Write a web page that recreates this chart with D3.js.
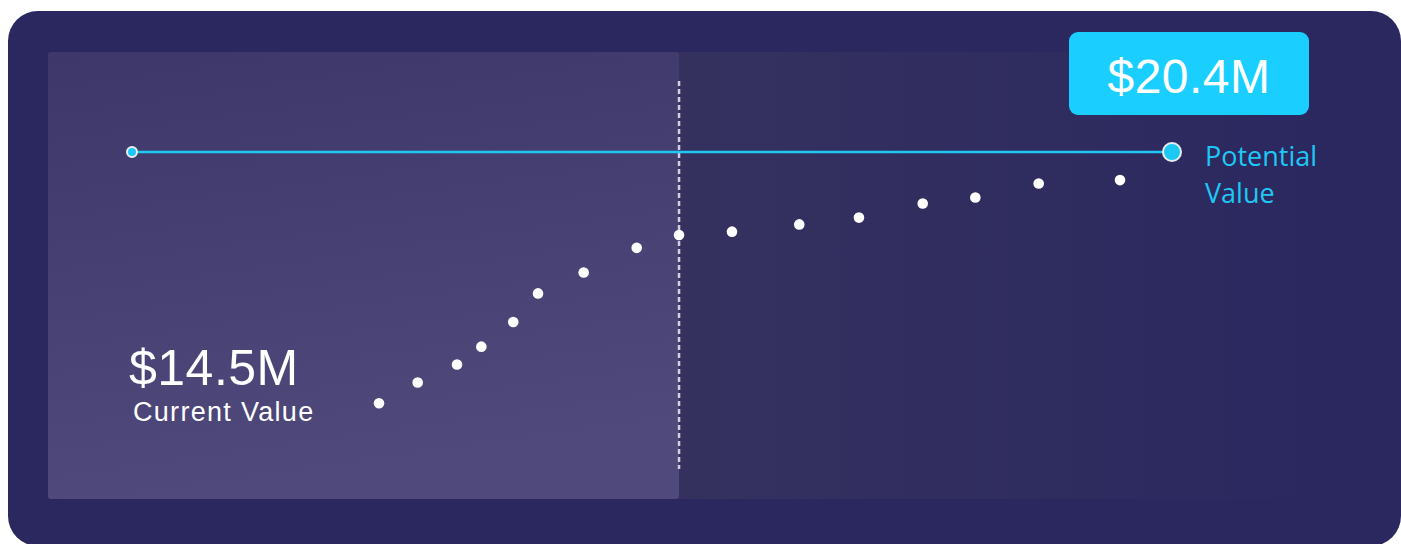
<!DOCTYPE html>
<html>
<head>
<meta charset="utf-8">
<script src="https://cdn.jsdelivr.net/npm/d3@7"></script>
<style>
  html, body { margin: 0; padding: 0; background: #ffffff; }
  svg { display: block; }
</style>
</head>
<body>
<svg id="chart" width="1401" height="544"></svg>
<script>
// timeline position (0 = start, 100 = target) and value in $M
const timeline = [23.75, 27.47, 31.25, 33.59, 36.66, 39.04, 43.43, 48.53, 52.6, 57.69, 64.16, 69.9, 76.03, 81.09, 87.18, 95.0];
const values   = [14.50, 14.99, 15.41, 15.83, 16.41, 17.08, 17.57, 18.15, 18.45, 18.53, 18.70, 18.86, 19.19, 19.33, 19.66, 19.74];
const todayPos = 52.6;
const potentialRange = [0, 100];
const currentValue = 14.5;
const potentialValue = 20.4;
const currentLabel = "$14.5M";
const currentText = "Current Value";
const potentialLabel = "$20.4M";
const potentialText = ["Potential", "Value"];

const svg = d3.select("#chart");
const width = 1401, height = 544;

const x = d3.scaleLinear().domain([0, 100]).range([132, 1172]);
const y = d3.scaleLinear().domain([currentValue, potentialValue]).range([403.3, 152]);

const defs = svg.append("defs");
const gLeft = defs.append("linearGradient").attr("id", "leftFill")
  .attr("x1", "0%").attr("y1", "0%").attr("x2", "20%").attr("y2", "100%");
gLeft.append("stop").attr("offset", "0%").attr("stop-color", "#3d3869");
gLeft.append("stop").attr("offset", "100%").attr("stop-color", "#4f4a7b");
const gRight = defs.append("linearGradient").attr("id", "rightFill")
  .attr("x1", "0%").attr("y1", "0%").attr("x2", "100%").attr("y2", "0%");
gRight.append("stop").attr("offset", "0%").attr("stop-color", "#35315f");
gRight.append("stop").attr("offset", "100%").attr("stop-color", "#2b2860");

// outer card
svg.append("rect")
  .attr("x", 8).attr("y", 11).attr("width", 1393).attr("height", 535)
  .attr("rx", 30).attr("fill", "#2b2860");

// inner panel: right (future) and left (past)
svg.append("rect")
  .attr("x", x(todayPos)).attr("y", 52).attr("width", 1330 - x(todayPos)).attr("height", 447)
  .attr("fill", "url(#rightFill)");
svg.append("rect")
  .attr("x", 48).attr("y", 52).attr("width", x(todayPos) - 48).attr("height", 447)
  .attr("rx", 3).attr("fill", "url(#leftFill)");

// today marker
svg.append("line")
  .attr("x1", x(todayPos)).attr("x2", x(todayPos))
  .attr("y1", 81).attr("y2", 469)
  .attr("stroke", "#d2d0e0").attr("stroke-width", 2.5)
  .attr("stroke-dasharray", "5,3");

// potential line
svg.append("line")
  .attr("x1", x(potentialRange[0])).attr("x2", x(potentialRange[1]))
  .attr("y1", y(potentialValue)).attr("y2", y(potentialValue))
  .attr("stroke", "#1ec8f5").attr("stroke-width", 2.5);
svg.append("circle")
  .attr("cx", x(potentialRange[0])).attr("cy", y(potentialValue)).attr("r", 5)
  .attr("fill", "#1ec8f5").attr("stroke", "#e8ecf4").attr("stroke-width", 2);
svg.append("circle")
  .attr("cx", x(potentialRange[1])).attr("cy", y(potentialValue)).attr("r", 9)
  .attr("fill", "#1ec8f5").attr("stroke", "#e8ecf4").attr("stroke-width", 2);

// value dots
svg.selectAll(".dot")
  .data(timeline.map((t, i) => ({ t, v: values[i] })))
  .join("circle")
  .attr("class", "dot")
  .attr("cx", d => x(d.t)).attr("cy", d => y(d.v)).attr("r", 5.3)
  .attr("fill", "#ffffff");

// potential badge
svg.append("rect")
  .attr("x", 1069).attr("y", 32).attr("width", 240).attr("height", 83)
  .attr("rx", 9).attr("fill", "#1acfff");
svg.append("text")
  .attr("x", 1189).attr("y", 93).attr("text-anchor", "middle")
  .attr("fill", "#ffffff")
  .style("font-family", "'Liberation Sans', Arial, sans-serif").style("font-size", "48px")
  .style("letter-spacing", "0.5px")
  .text(potentialLabel);

svg.append("text")
  .attr("x", 1205).attr("fill", "#1ec8f5")
  .style("font-family", "'Open Sans', Lato, sans-serif").style("font-size", "27px")
  .selectAll("tspan").data(potentialText).join("tspan")
  .attr("x", 1205).attr("y", (d, i) => 166 + i * 37)
  .text(d => d);

// current value labels
svg.append("text")
  .attr("x", 129).attr("y", 385).attr("fill", "#ffffff")
  .style("font-family", "'Liberation Sans', Arial, sans-serif").style("font-size", "50px")
  .style("letter-spacing", "0.5px")
  .text(currentLabel);
svg.append("text")
  .attr("x", 133).attr("y", 421).attr("fill", "#ffffff")
  .style("font-family", "'Liberation Sans', Arial, sans-serif").style("font-size", "27px")
  .style("letter-spacing", "1.3px")
  .text(currentText);
</script>
</body>
</html>
